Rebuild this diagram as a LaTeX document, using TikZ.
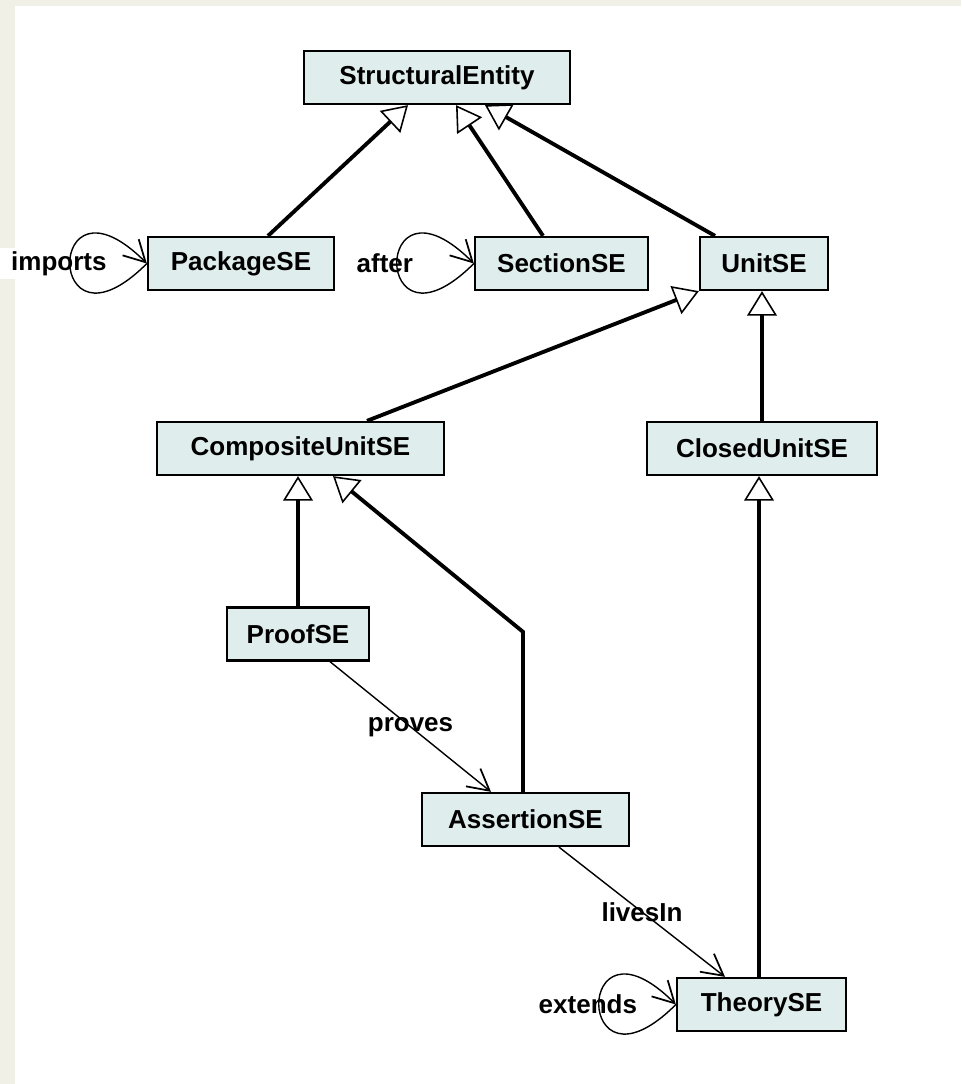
\documentclass[tikz,border=0pt]{standalone}
\usepackage{fontspec}
\setmainfont{Liberation Sans}
\usepackage{tikz}
\usetikzlibrary{arrows.meta,positioning,calc}

\definecolor{pagebg}{RGB}{241,240,230}
\definecolor{entityfill}{RGB}{223,237,237}

\begin{document}
\begin{tikzpicture}[
  entity/.style={draw, line width=1.3pt, fill=entityfill, minimum height=1.06cm,
    inner sep=0pt, font=\fontsize{14.8}{17}\selectfont\bfseries},
  looplabel/.style={fill=white, inner xsep=7.1pt, inner ysep=2pt,
    font=\fontsize{14.8}{17}\selectfont\bfseries},
  edgelabel/.style={inner sep=0pt, font=\fontsize{14.8}{17}\selectfont\bfseries},
  inherit/.style={line width=2.2pt,
    -{Triangle[open, line width=0.9pt, length=14pt, width=17pt]}},
  assoc/.style={line width=0.8pt,
    -{Straight Barb[length=12pt, width=13pt, line width=1pt]}},
  selfloop/.style={out=225, in=135, distance=2.9cm}
]
  % Page background
  \useasboundingbox (0,0) rectangle (19.22,-21.68);
  \fill[pagebg] (0,0) rectangle (19.22,-21.68);
  \fill[white] (0.3,-0.12) rectangle (19.22,-21.68);

  % Define the entities
  \node[entity, minimum width=5.32cm] (se) at (8.74,-1.55) {StructuralEntity};
  \node[entity, minimum width=3.72cm] (pkg) at (4.82,-5.27) {PackageSE};
  \node[entity, minimum width=3.46cm] (sec) at (11.23,-5.27) {SectionSE};
  \node[entity, minimum width=2.56cm] (unit) at (15.28,-5.27) {UnitSE};
  \node[entity, minimum width=5.74cm] (comp) at (6.01,-8.97) {CompositeUnitSE};
  \node[entity, minimum width=4.60cm] (closed) at (15.24,-8.97) {ClosedUnitSE};
  \node[entity, minimum width=2.84cm] (proof) at (5.96,-12.68) {ProofSE};
  \node[entity, minimum width=4.14cm] (assert) at (10.51,-16.39) {AssertionSE};
  \node[entity, minimum width=3.38cm] (theory) at (15.23,-20.09) {TheorySE};

  % Draw the generalisations
  \draw[inherit] ([xshift=0.54cm]pkg.north) -- ([xshift=-0.58cm]se.south);
  \draw[inherit] ([xshift=-0.37cm]sec.north) -- ([xshift=0.38cm]se.south);
  \draw[inherit] ([xshift=-0.98cm]unit.north) -- ([xshift=0.96cm]se.south);
  \draw[inherit] ([xshift=1.33cm]comp.north) -- (unit.south west);
  \draw[inherit] (closed.north) -- (closed.north |- unit.south);
  \draw[inherit] (proof.north) -- (proof.north |- comp.south);
  \coordinate (bend) at ([xshift=-0.05cm,yshift=3.2cm]assert.north);
  \draw[inherit] ([xshift=-0.05cm]assert.north) -- (bend) -- ([xshift=0.65cm]comp.south);
  \draw[inherit] ([xshift=-0.05cm]theory.north) -- ([xshift=-0.05cm]theory.north |- closed.south);

  % Draw the associations
  \draw[assoc] ([xshift=0.64cm]proof.south) -- node[edgelabel] {proves} ([xshift=-0.69cm]assert.north);
  \draw[assoc] ([xshift=0.67cm]assert.south) -- node[edgelabel] {livesIn} ([xshift=-0.73cm]theory.north);

  % Label the self loops
  \node[looplabel] (importslbl) at ([xshift=-1.76cm]pkg.west) {imports};
  \node[looplabel] (afterlbl) at ([xshift=-1.78cm]sec.west) {after};
  \node[looplabel] (extendslbl) at ([xshift=-1.76cm]theory.west) {extends};

  % Draw the self loops
  \draw[assoc] (pkg.west) to[selfloop] (pkg.west);
  \draw[assoc] (sec.west) to[selfloop] (sec.west);
  \draw[assoc] (theory.west) to[selfloop] (theory.west);
\end{tikzpicture}
\end{document}
